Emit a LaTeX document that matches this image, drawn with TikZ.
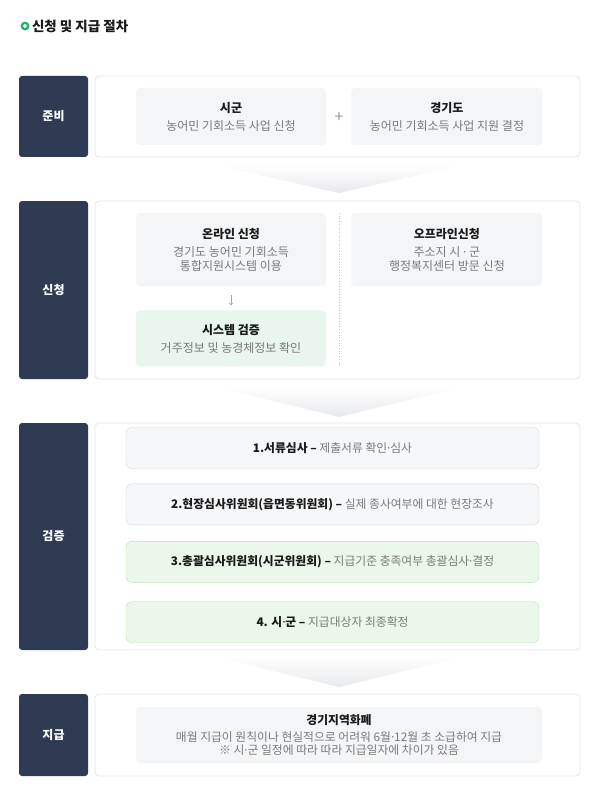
\documentclass[tikz,border=0pt]{standalone}
\usepackage{fontspec}
\setmainfont{Noto Sans CJK KR}
\newfontfamily\latinsans{Noto Sans}
\usetikzlibrary{positioning}
\usetikzlibrary{arrows}
\definecolor{stagenavy}{HTML}{2F3B52}
\definecolor{panelline}{HTML}{E4E6E9}
\definecolor{boxgray}{HTML}{F4F5F7}
\definecolor{boxmint}{HTML}{E8F6EE}
\definecolor{rowgray}{HTML}{F6F7F9}
\definecolor{rowline}{HTML}{D3D6DB}
\definecolor{rowgreen}{HTML}{EBF7EA}
\definecolor{rowlinegreen}{HTML}{BCE2B4}
\definecolor{subgray}{HTML}{7A7A7A}
\definecolor{headblack}{HTML}{1A1A1A}
\definecolor{titlegreen}{HTML}{1DB56E}
\definecolor{chevgray}{HTML}{E8E9EC}
\newcommand{\boxhead}[1]{\textcolor{headblack}{\textbf{#1}}}
\newcommand{\mdot}{{\latinsans ·}}

\begin{document}
\begin{tikzpicture}[x=1pt,y=-1pt,
  stage/.style={fill=stagenavy, rounded corners=3pt, text=white, font=\bfseries\fontsize{12}{14}\selectfont, minimum width=69pt, inner sep=0pt},
  panel/.style={draw=panelline, line width=0.8pt, fill=white, rounded corners=4pt, minimum width=485pt, inner sep=0pt},
  infobox/.style={fill=boxgray, rounded corners=4pt, align=center, inner sep=0pt, text=subgray, font=\fontsize{12}{14}\selectfont},
  checkbox/.style={infobox, fill=boxmint},
  grayrow/.style={draw=rowline, fill=rowgray, rounded corners=6pt, minimum width=413pt, minimum height=41pt, inner sep=0pt, text=headblack, font=\fontsize{11.8}{14}\selectfont},
  greenrow/.style={grayrow, draw=rowlinegreen, fill=rowgreen},
  chevron/.style={top color=white, bottom color=chevgray}]
\fill[white] (0,0) rectangle (600,805);
\useasboundingbox (0,0) rectangle (600,805);

\draw[titlegreen, line width=2.3pt] (25,26) circle (3.2);
\node[anchor=west, text=headblack, font=\bfseries\fontsize{13.5}{15}\selectfont] (title) at (28.5,26) {신청 및 지급 절차};

\node[stage, minimum height=81pt] (junbi) at (53.5,116.5) {준비};
\node[panel, minimum height=81pt] (junbipanel) at (337.5,116.5) {};
\node[infobox, minimum width=190pt, minimum height=57pt] (sigun) at (231,116.5) {\boxhead{시군}\\[4pt]농어민 기회소득 사업 신청};
\node[infobox, minimum width=191pt, minimum height=57pt, right=25pt of sigun] (gyeonggi) {\boxhead{경기도}\\[4pt]농어민 기회소득 사업 지원 결정};
\node[text=gray!80, font=\fontsize{16}{16}\selectfont] (plus) at (339,118) {+};

\shade[chevron] (216,165) -- (462,165) -- (339,193) -- cycle;

\node[stage, minimum height=178pt] (sincheong) at (53.5,290) {신청};
\node[panel, minimum height=178pt] (sincheongpanel) at (337.5,290) {};
\node[infobox, minimum width=190pt, minimum height=73pt] (online) at (231,249.5) {\boxhead{온라인 신청}\\[4pt]경기도 농어민 기회소득\\통합지원시스템 이용};
\node[checkbox, minimum width=190pt, minimum height=56pt, below=24pt of online] (system) {\boxhead{시스템 검증}\\[4pt]거주정보 및 농경체정보 확인};
\draw[->, gray!70, line width=0.7pt, shorten <=9pt, shorten >=5pt] (online) -- (system);
\node[infobox, minimum width=191pt, minimum height=73pt, right=25pt of online] (offline) {\boxhead{오프라인신청}\\[4pt]주소지 시 \mdot{} 군\\행정복지센터 방문 신청};
\draw[gray!45, dotted, line width=0.7pt] (339.5,213) -- (339.5,366);

\shade[chevron] (216,387) -- (462,387) -- (339,417) -- cycle;

\node[stage, minimum height=227pt] (geomjeung) at (53.5,536.5) {검증};
\node[panel, minimum height=227pt] (geomjeungpanel) at (337.5,536.5) {};
\node[grayrow] (seoryu) at (332.5,448) {\textbf{1.서류심사} \textbf{–} \textcolor{subgray}{제출서류 확인\mdot 심사}};
\node[grayrow, below=15pt of seoryu] (hyeonjang) {\textbf{2.현장심사위원회(읍면동위원회)} \textbf{–} \textcolor{subgray}{실제 종사여부에 대한 현장조사}};
\node[greenrow, below=16pt of hyeonjang] (chonggwal) {\textbf{3.총괄심사위원회(시군위원회)} \textbf{–} \textcolor{subgray}{지급기준 충족여부 총괄심사\mdot 결정}};
\node[greenrow, below=19pt of chonggwal] (sigunrow) {\textbf{4. 시{\latinsans\bfseries ·}군} \textbf{–} \textcolor{subgray}{지급대상자 최종확정}};

\shade[chevron] (216,657) -- (462,657) -- (339,687) -- cycle;

\node[stage, minimum height=82pt] (jigeup) at (53.5,735) {지급};
\node[panel, minimum height=82pt] (jigeuppanel) at (337.5,735) {};
\node[infobox, minimum width=406pt, minimum height=56pt, font=\fontsize{11.8}{13}\selectfont] (hwapye) at (339,735) {\boxhead{경기지역화폐}\\[4pt]매월 지급이 원칙이나 현실적으로 어려워 6월\mdot 12월 초 소급하여 지급\\※ 시\mdot 군 일정에 따라 따라 지급일자에 차이가 있음};
\end{tikzpicture}
\end{document}
